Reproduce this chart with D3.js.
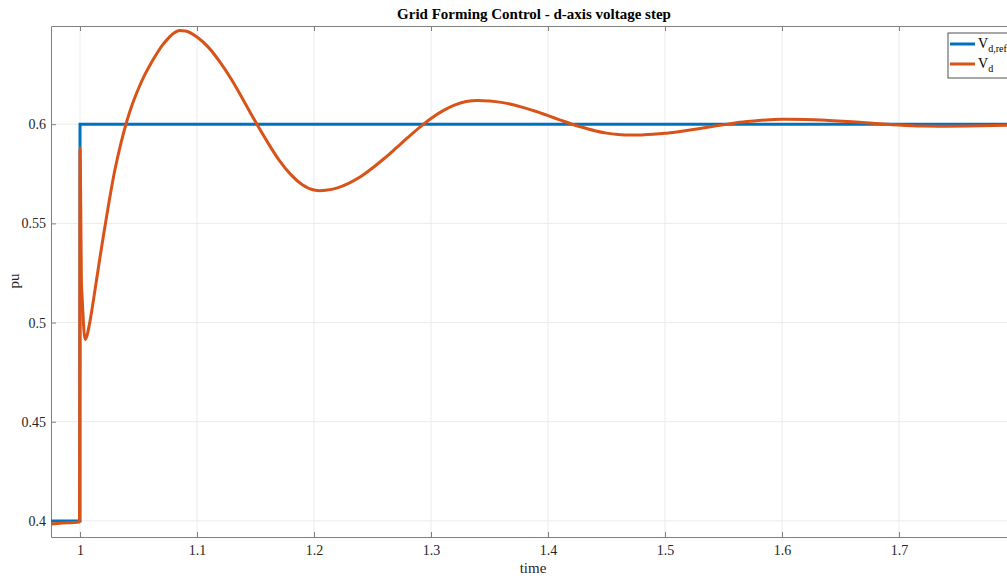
<!DOCTYPE html>
<html>
<head>
<meta charset="utf-8">
<script src="https://cdn.jsdelivr.net/npm/d3@7"></script>
<style>
  body { margin: 0; overflow: hidden; background: #fff; }
  #chart { width: 1007px; height: 579px; overflow: hidden; }
  text { font-family: "Liberation Serif", "DejaVu Serif", serif; }
</style>
</head>
<body>
<div id="chart"></div>
<script>
// Reference (blue) step
const refTime = [0.9752, 1.0, 1.0, 1.8];
const refValue = [0.4, 0.4, 0.6, 0.6];

const vdTime = [0.9752, 0.985, 0.995, 0.9995, 1.0, 1.0006, 1.0012, 1.0017, 1.0043, 1.006, 1.008, 1.010, 1.013, 1.016,
  1.020, 1.025, 1.030, 1.035, 1.040, 1.045, 1.05, 1.055, 1.06, 1.065, 1.07, 1.075, 1.08, 1.085, 1.09, 1.10, 1.11,
  1.12, 1.13, 1.14, 1.15,
  1.16, 1.17, 1.18, 1.19, 1.20, 1.205, 1.21, 1.22, 1.23, 1.24, 1.25, 1.26, 1.27, 1.28, 1.29, 1.30, 1.31, 1.32,
  1.33, 1.34, 1.35, 1.36, 1.37, 1.38, 1.39, 1.40, 1.41, 1.42, 1.43, 1.44, 1.45, 1.46, 1.47, 1.48, 1.49, 1.50,
  1.51, 1.52, 1.53, 1.54, 1.55, 1.56, 1.57, 1.58, 1.59, 1.60, 1.604, 1.62, 1.64, 1.66, 1.68, 1.70, 1.72, 1.74,
  1.76, 1.78, 1.80];
const vdValue = [0.3985, 0.399, 0.3992, 0.3995, 0.588, 0.56, 0.52, 0.514, 0.4915, 0.4935, 0.4990, 0.5058, 0.5172, 0.5288,
  0.5438, 0.5615, 0.5775, 0.5905, 0.6015, 0.6105, 0.6180, 0.6245, 0.6300, 0.6350, 0.6395, 0.6430, 0.6458, 0.6472, 0.6470, 0.644, 0.6386,
  0.631, 0.622, 0.6117, 0.6012,
  0.5912, 0.582, 0.5747, 0.5695, 0.5668, 0.5665, 0.5667, 0.5679, 0.5703, 0.5736, 0.5779, 0.5827, 0.5879, 0.5932, 0.5983, 0.6029, 0.6067, 0.6096,
  0.6114, 0.612, 0.6117, 0.611, 0.6098, 0.6082, 0.6064, 0.6043, 0.6022, 0.6001, 0.5983, 0.5967, 0.5955, 0.5948, 0.5945, 0.5946, 0.5949, 0.5954,
  0.5961, 0.5969, 0.5978, 0.5988, 0.5997, 0.6006, 0.6013, 0.6019, 0.6023, 0.6025, 0.6025, 0.6024, 0.6019, 0.6012, 0.6004, 0.5996, 0.5991, 0.599,
  0.5991, 0.5993, 0.5996];

const xTicks = [1, 1.1, 1.2, 1.3, 1.4, 1.5, 1.6, 1.7];
const yTicks = [0.4, 0.45, 0.5, 0.55, 0.6];

const width = 1030;
const height = 579;
const margin = { left: 51, right: 14, top: 26, bottom: 42 };

const svg = d3.select("#chart")
  .append("svg")
  .attr("width", width)
  .attr("height", height);

const x = d3.scaleLinear()
  .domain([0.9752, 1.8])
  .range([margin.left, width - margin.right]);
const y = d3.scaleLinear()
  .domain([0.3919, 0.6495])
  .range([height - margin.bottom, margin.top]);

// grid
svg.append("g")
  .selectAll("line")
  .data(xTicks)
  .join("line")
  .attr("x1", d => x(d)).attr("x2", d => x(d))
  .attr("y1", margin.top).attr("y2", height - margin.bottom)
  .attr("stroke", "#ebebeb");
svg.append("g")
  .selectAll("line")
  .data(yTicks)
  .join("line")
  .attr("x1", margin.left).attr("x2", width - margin.right)
  .attr("y1", d => y(d)).attr("y2", d => y(d))
  .attr("stroke", "#ebebeb");

// axes (ticks pointing inward)
const fmt = d => String(+d.toFixed(2));
const bottomAxis = svg.append("g")
  .attr("transform", `translate(0, ${height - margin.bottom})`)
  .call(d3.axisBottom(x).tickValues(xTicks).tickFormat(fmt).tickSizeInner(-5).tickSizeOuter(0).tickPadding(8));
const topAxis = svg.append("g")
  .attr("transform", `translate(0, ${margin.top})`)
  .call(d3.axisTop(x).tickValues(xTicks).tickFormat("").tickSizeInner(-5).tickSizeOuter(0));
const leftAxis = svg.append("g")
  .attr("transform", `translate(${margin.left}, 0)`)
  .call(d3.axisLeft(y).tickValues(yTicks).tickFormat(fmt).tickSizeInner(-5).tickSizeOuter(0).tickPadding(5));

[bottomAxis, topAxis, leftAxis].forEach(g => {
  g.select(".domain").attr("stroke", "#808080");
  g.selectAll(".tick line").attr("stroke", "#808080");
  g.selectAll(".tick text")
    .attr("fill", "#262626")
    .style("font-family", "'Liberation Serif', serif")
    .style("font-size", "14px");
});

// lines
const line = d3.line()
  .x(d => x(d[0]))
  .y(d => y(d[1]));

svg.append("path")
  .datum(refTime.map((t, i) => [t, refValue[i]]))
  .attr("d", line)
  .attr("fill", "none")
  .attr("stroke", "#0072BD")
  .attr("stroke-width", 3);

svg.append("path")
  .datum(vdTime.map((t, i) => [t, vdValue[i]]))
  .attr("d", line.curve(d3.curveMonotoneX))
  .attr("fill", "none")
  .attr("stroke", "#D95319")
  .attr("stroke-width", 3);

// title and labels
svg.append("text")
  .attr("x", 534)
  .attr("y", 19)
  .attr("text-anchor", "middle")
  .style("font-weight", "bold")
  .style("font-size", "15px")
  .attr("fill", "#000")
  .text("Grid Forming Control - d-axis voltage step");
svg.append("text")
  .attr("x", 533)
  .attr("y", 573)
  .attr("text-anchor", "middle")
  .style("font-size", "15px")
  .attr("fill", "#262626")
  .text("time");
svg.append("text")
  .attr("transform", "rotate(-90)")
  .attr("x", -281)
  .attr("y", 19)
  .attr("text-anchor", "middle")
  .style("font-size", "15px")
  .attr("fill", "#262626")
  .text("pu");

// legend
const legend = svg.append("g").attr("transform", "translate(948, 33)");
legend.append("rect")
  .attr("width", 66).attr("height", 45)
  .attr("fill", "#fff").attr("stroke", "#262626").attr("stroke-width", 0.8);
const entries = [["d,ref", "#0072BD"], ["d", "#D95319"]];
entries.forEach(([sub, color], i) => {
  const yy = 11 + i * 20;
  legend.append("line")
    .attr("x1", 2).attr("x2", 27).attr("y1", yy).attr("y2", yy)
    .attr("stroke", color).attr("stroke-width", 3);
  const t = legend.append("text")
    .attr("x", 30).attr("y", yy + 4)
    .attr("fill", "#000")
    .style("font-size", "14px");
  t.append("tspan").text("V");
  t.append("tspan").attr("dy", 4).style("font-size", "10px").text(sub);
});
</script>
</body>
</html>
